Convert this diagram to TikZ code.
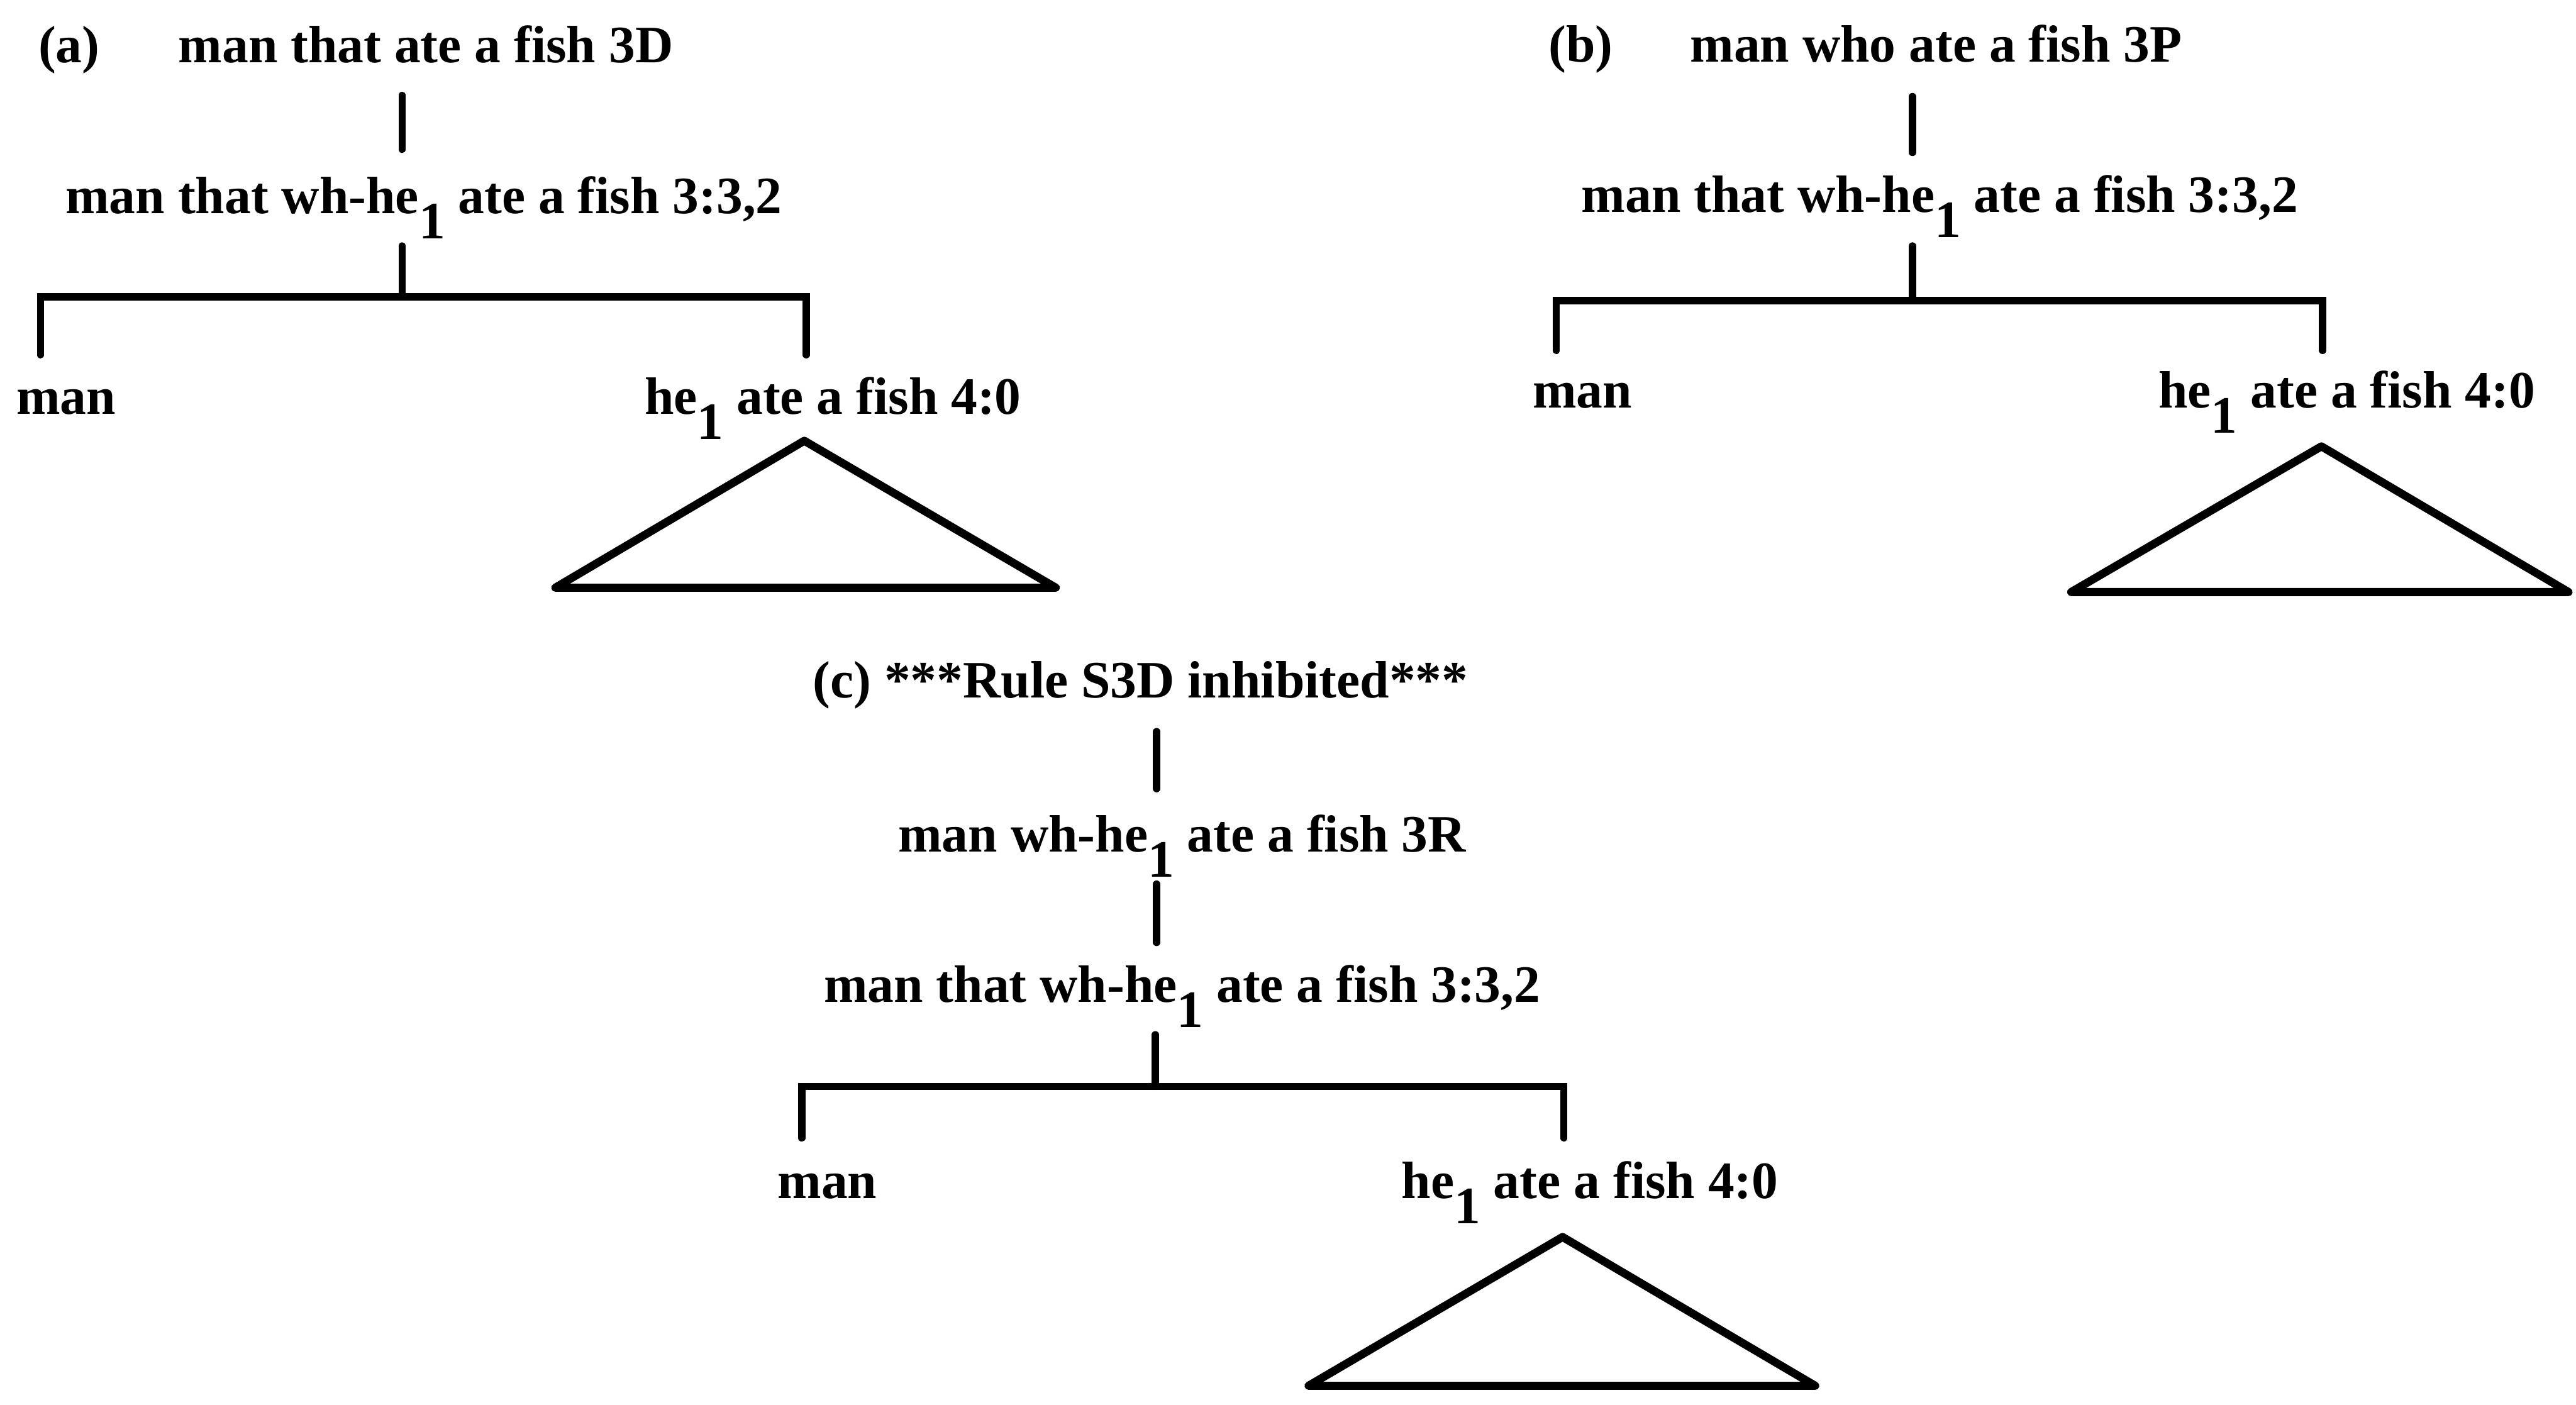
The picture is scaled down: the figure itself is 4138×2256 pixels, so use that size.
\documentclass[tikz,border=0pt]{standalone}
\usepackage{fontspec}
\setmainfont{Liberation Serif}
% subscript index set low beside its word
\newcommand{\lowidx}[1]{\raisebox{-0.48em}{#1}}
\begin{document}
\begin{tikzpicture}[x=0.01cm, y=-0.01cm,
  lbl/.style={inner sep=0pt, anchor=base, font=\fontsize{24}{28}\selectfont\bfseries},
  edge/.style={line width=0.115cm, line cap=round},
  tri/.style={line width=0.13cm, line join=round}]
\useasboundingbox[fill=white] (0,0) rectangle (4138,2256);

% ---------- tree (a) ----------
\node[lbl] (atag) at (111,101) {(a)};
\node[lbl] (a0) at (684,101) {man that ate a fish 3D};
\node[lbl] (a1) at (681,343) {man that wh-he\lowidx{1} ate a fish 3:3,2};
\node[lbl] (aman) at (106,665) {man};
\node[lbl] (ahe) at (1338,665) {he\lowidx{1} ate a fish 4:0};
\coordinate (a0d) at (646,153);
\coordinate (a1u) at (646,240);
\coordinate (a1d) at (646,395);
\coordinate (aj) at (646,477);
\coordinate (ajl) at (65,477);
\coordinate (ajr) at (1295,477);
\coordinate (amu) at (65,570);
\coordinate (ahu) at (1295,570);
\draw[edge] (a0d) -- (a1u);
\draw[edge] (a1d) -- (aj);
\draw[edge] (amu) -- (ajl) -- (ajr) -- (ahu);
\coordinate (atop) at (1292,708);
\coordinate (abl) at (892,944);
\coordinate (abr) at (1696,944);
\draw[tri] (atop) -- (abl) -- (abr) -- cycle;

% ---------- tree (b) ----------
\node[lbl] (btag) at (2539,99) {(b)};
\node[lbl] (b0) at (3110,99) {man who ate a fish 3P};
\node[lbl] (b1) at (3116,341) {man that wh-he\lowidx{1} ate a fish 3:3,2};
\node[lbl] (bman) at (2542,655) {man};
\node[lbl] (bhe) at (3770,655) {he\lowidx{1} ate a fish 4:0};
\coordinate (b0d) at (3072,155);
\coordinate (b1u) at (3072,245);
\coordinate (b1d) at (3072,395);
\coordinate (bj) at (3072,483);
\coordinate (bjl) at (2500,483);
\coordinate (bjr) at (3731,483);
\coordinate (bmu) at (2500,563);
\coordinate (bhu) at (3731,563);
\draw[edge] (b0d) -- (b1u);
\draw[edge] (b1d) -- (bj);
\draw[edge] (bmu) -- (bjl) -- (bjr) -- (bhu);
\coordinate (btop) at (3729,717);
\coordinate (bbl) at (3327,951);
\coordinate (bbr) at (4126,951);
\draw[tri] (btop) -- (bbl) -- (bbr) -- cycle;

% ---------- tree (c) ----------
\node[lbl] (c0) at (1832,1121) {(c) ***Rule S3D inhibited***};
\node[lbl] (c1) at (1899,1368) {man wh-he\lowidx{1} ate a fish 3R};
\node[lbl] (c2) at (1899,1610) {man that wh-he\lowidx{1} ate a fish 3:3,2};
\node[lbl] (cman) at (1329,1925) {man};
\node[lbl] (che) at (2554,1925) {he\lowidx{1} ate a fish 4:0};
\coordinate (c0d) at (1858,1175);
\coordinate (c1u) at (1858,1267);
\coordinate (c1d) at (1858,1420);
\coordinate (c2u) at (1858,1514);
\coordinate (c2d) at (1856,1662);
\coordinate (cj) at (1856,1745);
\coordinate (cjl) at (1288,1745);
\coordinate (cjr) at (2512,1745);
\coordinate (cmu) at (1288,1828);
\coordinate (chu) at (2512,1828);
\draw[edge] (c0d) -- (c1u);
\draw[edge] (c1d) -- (c2u);
\draw[edge] (c2d) -- (cj);
\draw[edge] (cmu) -- (cjl) -- (cjr) -- (chu);
\coordinate (ctop) at (2510,1987);
\coordinate (cbl) at (2102,2226);
\coordinate (cbr) at (2916,2226);
\draw[tri] (ctop) -- (cbl) -- (cbr) -- cycle;
\end{tikzpicture}
\end{document}
